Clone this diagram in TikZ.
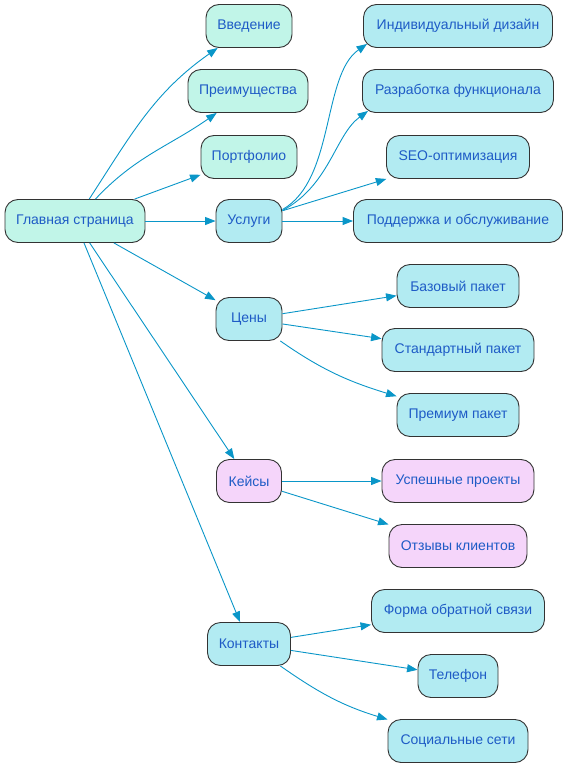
\documentclass[tikz,border=0pt]{standalone}
\usepackage{fontspec}
\setmainfont{Liberation Sans}
\usetikzlibrary{arrows.meta,calc}
\definecolor{mint}{HTML}{C1F5E8}
\definecolor{cyanf}{HTML}{B2EBF2}
\definecolor{pinkf}{HTML}{F5D5FA}
\definecolor{txt}{HTML}{1E5BC6}
\definecolor{edgec}{HTML}{0A96C8}
\definecolor{bord}{HTML}{333333}
\tikzset{
  box/.style={draw=bord, line width=0.9pt, rounded corners=13pt, minimum height=43pt,
    inner xsep=6pt, text=txt, font=\fontsize{14}{16}\selectfont, minimum width=#1},
  mintbox/.style={box=#1, fill=mint},
  cyanbox/.style={box=#1, fill=cyanf},
  pinkbox/.style={box=#1, fill=pinkf},
  conn/.style={draw=edgec, line width=0.9pt, -{Triangle[length=10.5pt,width=8pt]}}
}
\begin{document}
\begin{tikzpicture}[x=1pt,y=-1pt]
\useasboundingbox (0,0) rectangle (568,768);
\node[mintbox=140pt] (main) at (75,221) {Главная страница};
\node[mintbox=86pt] (vved) at (249,26) {Введение};
\node[mintbox=120pt] (preim) at (248,91) {Преимущества};
\node[mintbox=96pt] (portf) at (249,157) {Портфолио};
\node[cyanbox=66pt] (usl) at (249,221) {Услуги};
\node[cyanbox=66pt] (ceny) at (249,319) {Цены};
\node[pinkbox=65pt] (keys) at (249,481) {Кейсы};
\node[cyanbox=83pt] (kont) at (249,644) {Контакты};
\node[cyanbox=189pt] (ind) at (458,26) {Индивидуальный дизайн};
\node[cyanbox=191pt] (raz) at (458,91) {Разработка функционала};
\node[cyanbox=143pt] (seo) at (458,157) {SEO-оптимизация};
\node[cyanbox=209pt] (podd) at (458,221) {Поддержка и обслуживание};
\node[cyanbox=122pt] (baz) at (458,286) {Базовый пакет};
\node[cyanbox=152pt] (std) at (458,350) {Стандартный пакет};
\node[cyanbox=122pt] (prem) at (458,415) {Премиум пакет};
\node[pinkbox=152pt] (usp) at (458,481) {Успешные проекты};
\node[pinkbox=138pt] (otz) at (458,546) {Отзывы клиентов};
\node[cyanbox=173pt] (forma) at (458,611) {Форма обратной связи};
\node[cyanbox=80pt] (tel) at (458,676) {Телефон};
\node[cyanbox=140pt] (soc) at (458,741) {Социальные сети};

\draw[conn] (main) to[out=57,in=215] (vved);
\draw[conn] (main) to[out=47,in=215] (preim);
\draw[conn] (main) -- (portf);
\draw[conn] (main) -- (usl);
\draw[conn] (main) -- (ceny);
\draw[conn] (main) -- (keys);
\draw[conn] (main) -- (kont);

\draw[conn] ($(usl.north east)+(0,10.5)$) .. controls (335,180) and (322,75) .. ($(ind.south west)+(4,-4)$);
\draw[conn] ($(usl.north east)+(0,11.5)$) .. controls (330,185) and (335,135) .. ($(raz.south west)+(6,-2)$);
\draw[conn] (usl) -- (seo);
\draw[conn] (usl) -- (podd);

\draw[conn] (ceny) -- (baz);
\draw[conn] (ceny) -- (std);
\draw[conn] (ceny) to[out=-35,in=163] (prem);

\draw[conn] (keys) -- (usp);
\draw[conn] (keys) -- (otz);

\draw[conn] (kont) -- (forma);
\draw[conn] (kont) -- (tel);
\draw[conn] (kont) to[out=-35,in=163] (soc);
\end{tikzpicture}
\end{document}
